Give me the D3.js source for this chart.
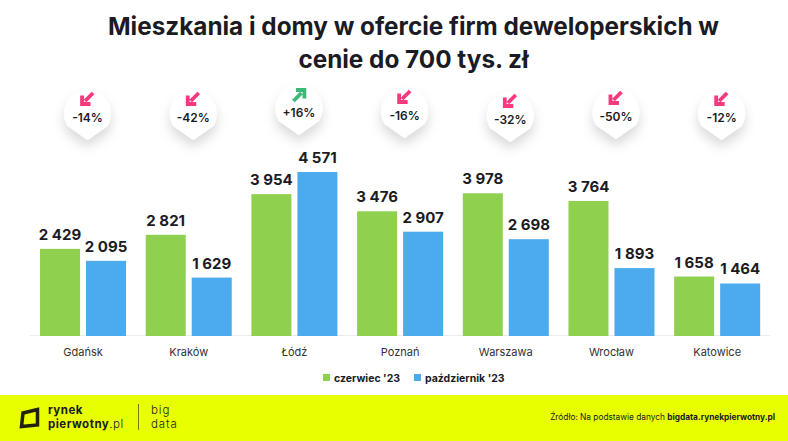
<!DOCTYPE html>
<html>
<head>
<meta charset="utf-8">
<script src="https://cdn.jsdelivr.net/npm/d3@7"></script>
<style>
  html, body { margin: 0; padding: 0; background: #fff; }
  svg { display: block; }
  text { font-family: Inter, "Open Sans", sans-serif; fill: #1b1b24; }
</style>
</head>
<body>
<svg id="chart" width="788" height="441"></svg>
<script>
const cities = ["Gdańsk", "Kraków", "Łódź", "Poznań", "Warszawa", "Wrocław", "Katowice"];
const june = [2429, 2821, 3954, 3476, 3978, 3764, 1658];
const october = [2095, 1629, 4571, 2907, 2698, 1893, 1464];
const changes = ["-14%", "-42%", "+16%", "-16%", "-32%", "-50%", "-12%"];
const seriesNames = ["czerwiec '23", "październik '23"];

// the pins do not sit on one line in the original
const pinTips = [140, 140, 135, 138, 142, 139, 140];

const width = 788;
const height = 441;
const baseline = 336;
const green = "#8fd14f";
const blue = "#4cabec";
const pink = "#f9387f";
const up = "#3cb878";

const svg = d3.select("#chart");
const fmt = n => d3.format(",")(n).replace(",", " ");

// shadow under the pins
const shadow = svg.append("defs").append("filter")
  .attr("id", "pinShadow")
  .attr("x", "-50%").attr("y", "-50%").attr("width", "200%").attr("height", "200%");
shadow.append("feDropShadow")
  .attr("dx", 0).attr("dy", 7).attr("stdDeviation", 6)
  .attr("flood-color", "#000").attr("flood-opacity", 0.15);

// title
svg.append("g").selectAll("text")
  .data(["Mieszkania i domy w ofercie firm deweloperskich w", "cenie do 700 tys. zł"])
  .enter().append("text")
  .attr("x", 413.5)
  .attr("y", (d, i) => 35 + i * 33)
  .attr("text-anchor", "middle")
  .style("font-size", "24.3px")
  .style("font-weight", 700)
  .text(d => d);

// scales
const x0 = d3.scaleBand()
  .domain(cities)
  .range([30.2, 770])
  .paddingInner(0.186)
  .paddingOuter(0.093);

const x1 = d3.scaleBand()
  .domain([0, 1])
  .range([0, x0.bandwidth()])
  .paddingInner(0.13);

const y = d3.scaleLinear()
  .domain([0, 4571])
  .range([baseline, 172]);

// baseline
svg.append("line")
  .attr("x1", 30).attr("x2", 770)
  .attr("y1", baseline - 0.5).attr("y2", baseline - 0.5)
  .attr("stroke", "#ececec");

// bars
const groups = svg.append("g").selectAll("g")
  .data(cities)
  .enter().append("g")
  .attr("transform", d => `translate(${x0(d)},0)`);

groups.each(function (city, i) {
  const vals = [june[i], october[i]];
  const g = d3.select(this);
  g.selectAll("rect")
    .data(vals)
    .enter().append("rect")
    .attr("x", (d, j) => x1(j))
    .attr("y", d => y(d))
    .attr("width", x1.bandwidth())
    .attr("height", d => baseline - y(d))
    .attr("fill", (d, j) => j === 0 ? green : blue);
  g.selectAll("text")
    .data(vals)
    .enter().append("text")
    .attr("x", (d, j) => x1(j) + x1.bandwidth() / 2)
    .attr("y", d => y(d) - 9)
    .attr("text-anchor", "middle")
    .style("font-size", "15px")
    .style("font-weight", 700)
    .text(d => fmt(d));
});

// city labels
const xAxis = d3.axisBottom(x0).tickSize(0).tickPadding(12);
const axisG = svg.append("g")
  .attr("transform", `translate(0,${baseline})`)
  .call(xAxis);
axisG.select(".domain").remove();
axisG.selectAll("text")
  .style("font-family", "Inter, sans-serif")
  .style("font-size", "11px")
  .style("fill", "#333");

// pins with the change
const pins = svg.append("g").selectAll("g")
  .data(cities)
  .enter().append("g")
  .attr("transform", (d, i) => `translate(${x0(d) + x0.bandwidth() / 2 + 4.5},${pinTips[i]})`);

pins.append("path")
  .attr("d", "M0 0 L-20 -14 A23.5 23.5 0 1 1 20 -14 Z")
  .attr("fill", "#fff")
  .attr("filter", "url(#pinShadow)");

pins.append("text")
  .attr("y", -18)
  .attr("text-anchor", "middle")
  .style("font-size", "12px")
  .style("font-weight", 600)
  .text((d, i) => changes[i]);

// arrow drawn pointing down-left, flipped for the rising one
pins.append("path")
  .attr("d", "M5.5 -6 L-2.5 2 M-5.5 -3.5 V5 H3")
  .attr("transform", (d, i) => changes[i][0] === "+"
    ? "translate(0,-40) scale(-1,-1)"
    : "translate(0,-41)")
  .attr("fill", "none")
  .attr("stroke", (d, i) => changes[i][0] === "+" ? up : pink)
  .attr("stroke-width", 3.8);

// legend
const legend = svg.append("g").selectAll("g")
  .data(seriesNames)
  .enter().append("g")
  .attr("transform", (d, i) => `translate(${i === 0 ? 323 : 414},379)`);
legend.append("rect")
  .attr("y", -5).attr("width", 7).attr("height", 7)
  .attr("fill", (d, i) => i === 0 ? green : blue);
legend.append("text")
  .attr("x", 11).attr("y", 3)
  .style("font-size", "10.5px")
  .style("font-weight", 700)
  .text(d => d);

// footer
svg.append("rect")
  .attr("y", 395).attr("width", width).attr("height", height - 395)
  .attr("fill", "#e8ff00");

const foot = svg.append("g");
foot.append("path")
  .attr("d", "M23 413 L37.5 409.5 V425 L21.5 426.5 Z")
  .attr("fill", "none")
  .attr("stroke", "#22230a")
  .attr("stroke-width", 3.5);
foot.append("text").attr("x", 48).attr("y", 413.5)
  .style("font-size", "11.5px").style("letter-spacing", "0.5px").style("font-weight", 700).text("rynek");
foot.append("text").attr("x", 48).attr("y", 427.5)
  .style("font-size", "11.5px").style("letter-spacing", "0.5px")
  .call(t => {
    t.append("tspan").style("font-weight", 700).text("pierwotny");
    t.append("tspan").style("font-weight", 300).text(".pl");
  });
foot.append("line")
  .attr("x1", 138.5).attr("x2", 138.5).attr("y1", 404).attr("y2", 430)
  .attr("stroke", "#55570f").attr("stroke-width", 0.8);
foot.append("text").attr("x", 151).attr("y", 413.5)
  .style("font-size", "11.5px").style("letter-spacing", "0.9px").style("font-weight", 300).text("big");
foot.append("text").attr("x", 151).attr("y", 427.5)
  .style("font-size", "11.5px").style("letter-spacing", "0.9px").style("font-weight", 300).text("data");

foot.append("text")
  .attr("x", 775).attr("y", 420)
  .attr("text-anchor", "end")
  .style("font-size", "8.3px")
  .call(t => {
    t.append("tspan").text("Źródło: Na podstawie danych ");
    t.append("tspan").style("font-weight", 700).text("bigdata.rynekpierwotny.pl");
  });
</script>
</body>
</html>
